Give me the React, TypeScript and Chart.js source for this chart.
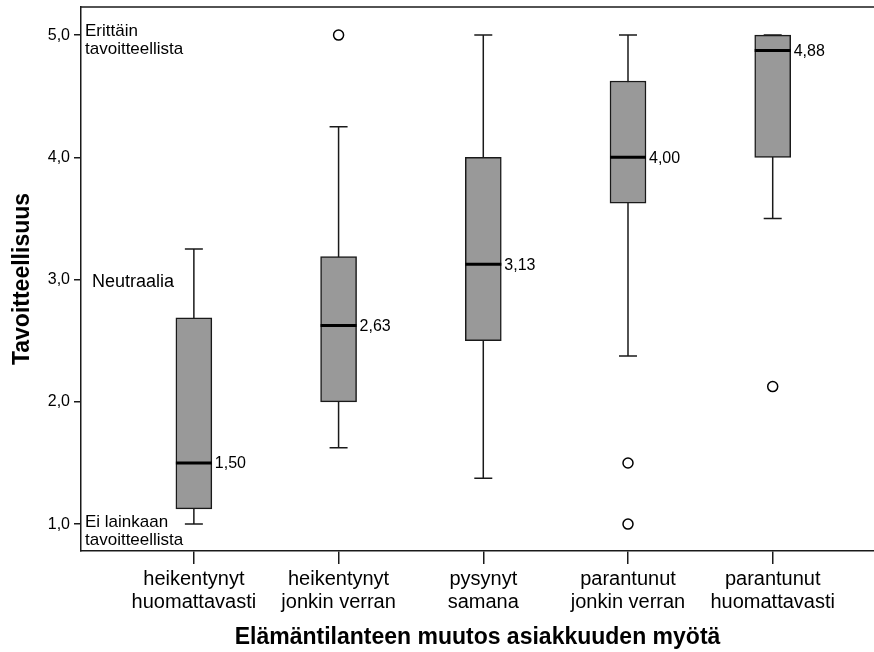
import { useEffect, useRef } from "react";
import { Chart, registerables } from "chart.js";

Chart.register(...registerables);

// ---- data ----
const categories: string[][] = [
  ["heikentynyt", "huomattavasti"],
  ["heikentynyt", "jonkin verran"],
  ["pysynyt", "samana"],
  ["parantunut", "jonkin verran"],
  ["parantunut", "huomattavasti"],
];
const whiskerLow = [1.0, 1.625, 1.375, 2.375, 3.5];
const q1Values = [1.125, 2.0, 2.5, 3.625, 4.0];
const medianValues = [1.5, 2.625, 3.125, 4.0, 4.875];
const q3Values = [2.6875, 3.1875, 4.0, 4.625, 5.0];
const whiskerHigh = [3.25, 4.25, 5.0, 5.0, 5.0];
const outlierCategory = [1, 3, 3, 4];
const outlierValues = [5.0, 1.5, 1.0, 2.125];
const yTickValues = [1, 2, 3, 4, 5];
const yTickLabels = ["1,0", "2,0", "3,0", "4,0", "5,0"];
const annotationValues = [5, 3, 1];
const annotationLines: string[][] = [
  ["Erittäin", "tavoitteellista"],
  ["Neutraalia"],
  ["Ei lainkaan", "tavoitteellista"],
];
const yAxisTitle = "Tavoitteellisuus";
const xAxisTitle = "Elämäntilanteen muutos asiakkuuden myötä";

const FONT = "'Liberation Sans', Arial, Helvetica, sans-serif";
const INK = "#1a1a1a";
const BOX_HALF = 18;
const CAP_HALF = 9;

// per-annotation style (offsets in px relative to the value's pixel)
const annotationStyle = [
  { dx: 4, dy: 1, size: 17, lineGap: 18 },
  { dx: 11, dy: 7, size: 18, lineGap: 18 },
  { dx: 4, dy: 3, size: 17, lineGap: 18 },
];

const boxExtras = {
  id: "boxExtras",
  beforeDatasetsDraw(chart: any) {
    const { ctx, scales } = chart;
    const x = scales.x;
    const y = scales.y;
    ctx.save();
    ctx.strokeStyle = INK;
    ctx.lineWidth = 1.5;
    for (let i = 0; i < categories.length; i++) {
      const px = x.getPixelForValue(i);
      const lo = y.getPixelForValue(whiskerLow[i]);
      const hi = y.getPixelForValue(whiskerHigh[i]);
      ctx.beginPath();
      ctx.moveTo(px, lo);
      ctx.lineTo(px, hi);
      ctx.moveTo(px - CAP_HALF, lo);
      ctx.lineTo(px + CAP_HALF, lo);
      ctx.moveTo(px - CAP_HALF, hi);
      ctx.lineTo(px + CAP_HALF, hi);
      ctx.stroke();
    }
    ctx.restore();
  },
  afterDatasetsDraw(chart: any) {
    const { ctx, scales, chartArea } = chart;
    const x = scales.x;
    const y = scales.y;
    ctx.save();
    // medians
    ctx.strokeStyle = "#000";
    ctx.lineWidth = 3;
    for (let i = 0; i < categories.length; i++) {
      const px = x.getPixelForValue(i);
      const py = y.getPixelForValue(medianValues[i]);
      ctx.beginPath();
      ctx.moveTo(px - BOX_HALF, py);
      ctx.lineTo(px + BOX_HALF, py);
      ctx.stroke();
    }
    // median labels
    ctx.fillStyle = "#000";
    ctx.font = `16px ${FONT}`;
    ctx.textAlign = "left";
    ctx.textBaseline = "middle";
    for (let i = 0; i < categories.length; i++) {
      const px = x.getPixelForValue(i);
      const py = y.getPixelForValue(medianValues[i]);
      ctx.fillText(medianValues[i].toFixed(2).replace(".", ","), px + BOX_HALF + 3, py + 1);
    }
    // annotations
    ctx.textBaseline = "alphabetic";
    for (let a = 0; a < annotationValues.length; a++) {
      const st = annotationStyle[a];
      ctx.font = `${st.size}px ${FONT}`;
      const py = y.getPixelForValue(annotationValues[a]);
      annotationLines[a].forEach((line, k) => {
        ctx.fillText(line, chartArea.left + st.dx, py + st.dy + k * st.lineGap);
      });
    }
    // top frame line
    ctx.strokeStyle = INK;
    ctx.lineWidth = 1.5;
    ctx.beginPath();
    ctx.moveTo(chartArea.left, chartArea.top);
    ctx.lineTo(chartArea.right, chartArea.top);
    ctx.stroke();
    ctx.restore();
  },
};

export default function App() {
  const canvasRef = useRef<HTMLCanvasElement | null>(null);

  useEffect(() => {
    if (!canvasRef.current) return;
    const chart = new Chart(canvasRef.current, {
      type: "bar",
      data: {
        datasets: [
          {
            type: "bar",
            data: categories.map((_, i) => ({ x: i, y: [q1Values[i], q3Values[i]] })) as any,
            backgroundColor: "#999999",
            borderColor: INK,
            borderWidth: 1.5,
            borderSkipped: false,
            barThickness: BOX_HALF * 2,
            grouped: false,
          } as any,
          {
            type: "scatter",
            data: outlierCategory.map((c, i) => ({ x: c, y: outlierValues[i] })),
            pointRadius: 5,
            pointBackgroundColor: "#ffffff",
            pointBorderColor: "#000",
            pointBorderWidth: 1.5,
            showLine: false,
          } as any,
        ],
      },
      options: {
        animation: false,
        responsive: true,
        maintainAspectRatio: false,
        layout: { autoPadding: false, padding: { top: 7, left: 0, right: 0, bottom: 0 } },
        plugins: {
          legend: { display: false },
          tooltip: { enabled: false },
        },
        scales: {
          x: {
            type: "linear",
            offset: false,
            min: -0.78,
            max: 4.7,
            afterBuildTicks: (scale: any) => {
              scale.ticks = categories.map((_, i) => ({ value: i }));
            },
            afterFit: (scale: any) => {
              scale.height = 101;
              scale.paddingLeft = 0;
              scale.paddingRight = 0;
            },
            ticks: {
              autoSkip: false,
              maxRotation: 0,
              minRotation: 0,
              padding: 4,
              color: "#000",
              font: { family: FONT, size: 20, lineHeight: 1.15 },
              callback: (value: any) => categories[value as number] ?? "",
            },
            grid: {
              offset: false,
              drawOnChartArea: false,
              drawTicks: true,
              tickLength: 13,
              color: INK,
              lineWidth: 1.5,
            },
            border: { display: true, color: INK, width: 1.5 },
            title: {
              display: true,
              text: xAxisTitle,
              color: "#000",
              font: { family: FONT, size: 23, weight: "bold" },
              padding: { top: 0, bottom: 1 },
            },
          },
          y: {
            type: "linear",
            min: 0.78,
            max: 5.23,
            afterBuildTicks: (scale: any) => {
              scale.ticks = yTickValues.map((v) => ({ value: v }));
            },
            afterFit: (scale: any) => {
              scale.width = 81;
              scale.paddingTop = 0;
              scale.paddingBottom = 0;
            },
            ticks: {
              padding: 4,
              color: "#000",
              font: { family: FONT, size: 16 },
              callback: (value: any) => yTickLabels[yTickValues.indexOf(value as number)] ?? "",
            },
            grid: {
              drawOnChartArea: false,
              drawTicks: true,
              tickLength: 7,
              color: INK,
              lineWidth: 1.5,
            },
            border: { display: true, color: INK, width: 1.5 },
            title: {
              display: true,
              text: yAxisTitle,
              color: "#000",
              font: { family: FONT, size: 23, weight: "bold" },
              padding: { top: 9, bottom: 0 },
            },
          },
        },
      },
      plugins: [boxExtras],
    });
    return () => chart.destroy();
  }, []);

  return (
    <div style={{ position: "fixed", left: 0, top: 0, width: 874, height: 652, background: "#fff" }}>
      <canvas ref={canvasRef} />
    </div>
  );
}
